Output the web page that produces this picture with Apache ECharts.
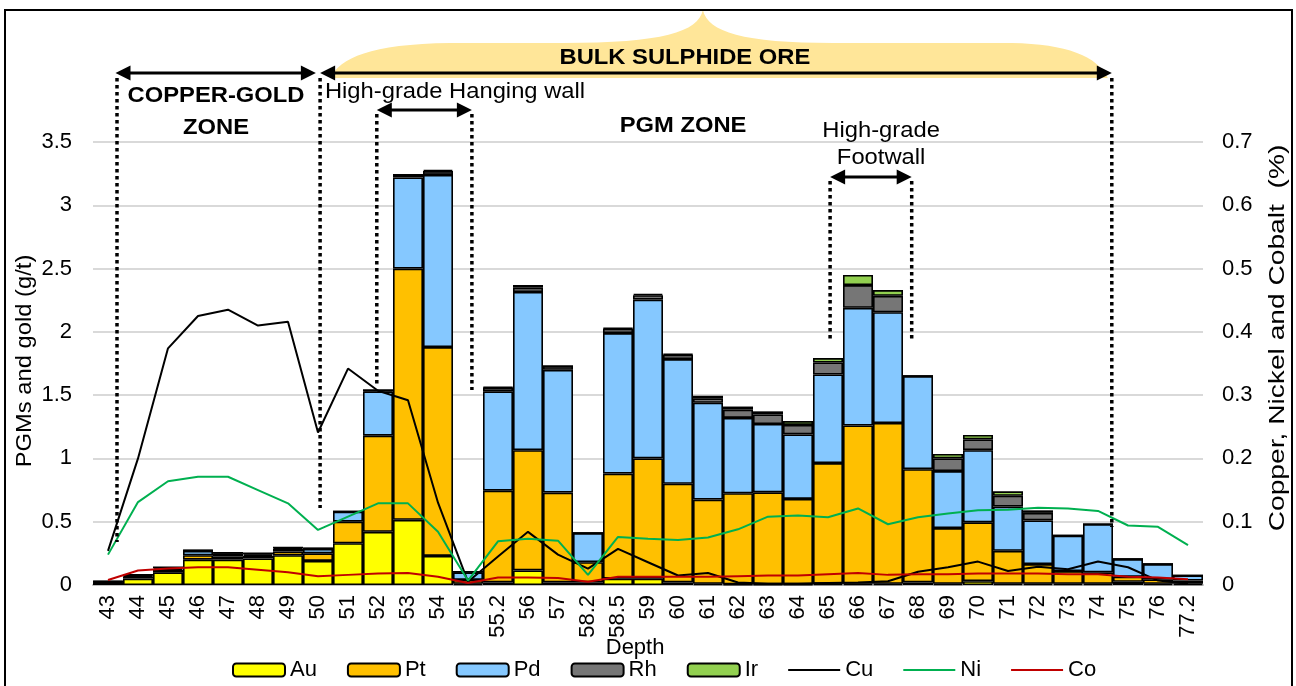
<!DOCTYPE html>
<html>
<head>
<meta charset="utf-8">
<script src="https://cdn.jsdelivr.net/npm/echarts@6/dist/echarts.min.js"></script>
<style>
  html, body { margin: 0; padding: 0; background: #fff; }
  #chart { width: 1296px; height: 686px; }
</style>
</head>
<body>
<div id="chart"></div>
<script>
// depth categories
const depth = ['43', '44', '45', '46', '47', '48', '49', '50', '51', '52', '53', '54', '55', '55.2', '56', '57', '58.2', '58.5',
  '59', '60', '61', '62', '63', '64', '65', '66', '67', '68', '69', '70', '71', '72', '73', '74', '75', '76', '77.2']

// PGMs and gold (g/t), stacked
const au = [0.02, 0.05, 0.1, 0.2, 0.2, 0.21, 0.235, 0.19, 0.33, 0.42, 0.515, 0.23, 0.01, 0.02, 0.115, 0.02, 0.02, 0.05,
  0.05, 0.02, 0.01, 0.005, 0.005, 0.005, 0.01, 0.01, 0.01, 0.02, 0.01, 0.03, 0.01, 0.01, 0.01, 0.01, 0.025, 0.01, 0.01]
const pt = [0.005, 0.015, 0.02, 0.035, 0.025, 0.02, 0.03, 0.06, 0.17, 0.76, 1.985, 1.65, 0.03, 0.725, 0.95, 0.71, 0.16, 0.83,
  0.95, 0.78, 0.665, 0.72, 0.727, 0.675, 0.953, 1.25, 1.27, 0.895, 0.44, 0.465, 0.26, 0.155, 0.1, 0.09, 0.04, 0.035, 0.025]
const pd = [0, 0.005, 0.01, 0.035, 0.025, 0.01, 0.02, 0.035, 0.08, 0.35, 0.72, 1.36, 0.06, 0.785, 1.25, 0.97, 0.23, 1.11,
  1.255, 0.985, 0.765, 0.595, 0.54, 0.51, 0.7, 0.93, 0.875, 0.735, 0.45, 0.57, 0.35, 0.345, 0.28, 0.38, 0.14, 0.12, 0.04]
const rh = [0.005, 0.01, 0.01, 0.005, 0.005, 0.01, 0.01, 0.005, 0, 0.01, 0.02, 0.03, 0.005, 0.03, 0.035, 0.03, 0, 0.035,
  0.035, 0.035, 0.035, 0.065, 0.075, 0.075, 0.095, 0.18, 0.13, 0, 0.1, 0.085, 0.085, 0.06, 0, 0, 0, 0, 0]
const ir = [0, 0, 0, 0, 0, 0, 0, 0, 0, 0, 0, 0.01, 0, 0.005, 0.02, 0, 0, 0.005,
  0.01, 0.005, 0.02, 0.025, 0.025, 0.03, 0.035, 0.08, 0.045, 0, 0.035, 0.035, 0.035, 0.02, 0, 0, 0, 0, 0]

// copper, nickel and cobalt (%)
const cu = [0.054, 0.2, 0.374, 0.425, 0.435, 0.41, 0.416, 0.241, 0.342, 0.307, 0.292, 0.13, 0.005, 0.045, 0.084, 0.048, 0.026, 0.057,
  0.036, 0.015, 0.019, 0.004, 0.002, 0.002, 0.003, 0.004, 0.006, 0.021, 0.028, 0.037, 0.022, 0.029, 0.025, 0.037, 0.028, 0.007, 0.002]
const ni = [0.048, 0.131, 0.164, 0.171, 0.171, 0.15, 0.129, 0.087, 0.108, 0.129, 0.129, 0.084, 0.007, 0.069, 0.073, 0.07, 0.016, 0.076,
  0.073, 0.071, 0.075, 0.088, 0.108, 0.11, 0.107, 0.121, 0.096, 0.107, 0.113, 0.118, 0.119, 0.122, 0.121, 0.117, 0.094, 0.092, 0.063]
const co = [0.008, 0.023, 0.026, 0.028, 0.028, 0.024, 0.02, 0.014, 0.016, 0.018, 0.019, 0.013, 0.003, 0.012, 0.012, 0.011, 0.005, 0.013,
  0.013, 0.013, 0.013, 0.014, 0.015, 0.015, 0.017, 0.019, 0.016, 0.017, 0.017, 0.018, 0.018, 0.018, 0.017, 0.017, 0.013, 0.012, 0.009]

const FONT = '"Liberation Sans", Arial, sans-serif'
// flat line icon for the line series in the legend (the M points pin the box to 52x13)
const LINE_ICON = 'path://M0,0 M52,13 M0,5.5 L52,5.5 L52,7.5 L0,7.5 Z'

const barSeries = (name, data, color) => ({
  name,
  type: 'bar',
  stack: 'pgm',
  yAxisIndex: 0,
  barCategoryGap: '0%',
  itemStyle: {color, borderColor: '#000', borderWidth: 1.6},
  data
})

const lineSeries = (name, data, color) => ({
  name,
  type: 'line',
  yAxisIndex: 1,
  symbol: 'none',
  z: 5,
  itemStyle: {color},
  lineStyle: {color, width: 2},
  data
})

const chart = echarts.init(document.getElementById('chart'))

chart.setOption({
  animation: false,
  textStyle: {fontFamily: FONT},
  grid: {left: 93, right: 93, top: 142, bottom: 101},
  legend: {
    left: 227,
    bottom: 0,
    itemWidth: 52,
    itemHeight: 13,
    itemGap: 30,
    textStyle: {fontSize: 22, color: '#000', fontFamily: FONT},
    data: ['Au', 'Pt', 'Pd', 'Rh', 'Ir',
      {name: 'Cu', icon: LINE_ICON},
      {name: 'Ni', icon: LINE_ICON},
      {name: 'Co', icon: LINE_ICON}]
  },
  xAxis: {
    type: 'category',
    data: depth,
    axisLine: {lineStyle: {color: '#bfbfbf', width: 2}},
    axisTick: {show: false},
    axisLabel: {rotate: 90, fontSize: 22, color: '#000', margin: 10, interval: 0}
  },
  yAxis: [
    {
      type: 'value',
      min: 0,
      max: 3.5,
      interval: 0.5,
      axisLine: {show: false},
      axisTick: {show: false},
      axisLabel: {fontSize: 22, color: '#000', margin: 21},
      splitLine: {lineStyle: {color: '#d9d9d9', width: 2}}
    },
    {
      type: 'value',
      min: 0,
      max: 0.7,
      interval: 0.1,
      axisLine: {show: false},
      axisTick: {show: false},
      axisLabel: {fontSize: 22, color: '#000', margin: 19},
      splitLine: {show: false}
    }
  ],
  series: [
    barSeries('Au', au, '#FFFF00'),
    barSeries('Pt', pt, '#FFC000'),
    barSeries('Pd', pd, '#85C8FF'),
    barSeries('Rh', rh, '#767676'),
    barSeries('Ir', ir, '#92D050'),
    lineSeries('Cu', cu, '#000000'),
    lineSeries('Ni', ni, '#00B050'),
    lineSeries('Co', co, '#C00000')
  ]
})

// annotations: x positions measured in bar widths from the left edge of the plot
const c0 = chart.convertToPixel({xAxisIndex: 0}, 0)
const bw = chart.convertToPixel({xAxisIndex: 0}, 1) - c0
const X = k => c0 - bw / 2 + k * bw

const dotted = (k, y1, y2) => ({
  type: 'line',
  z: 100,
  shape: {x1: X(k), y1, x2: X(k), y2},
  style: {stroke: '#000', lineWidth: 3.5, lineDash: [3.5, 3.5]}
})

const arrow = (x1, x2, y) => {
  const h = 15, w = 7.5
  return [
    {type: 'line', z: 100, shape: {x1: x1 + h - 2, y1: y, x2: x2 - h + 2, y2: y}, style: {stroke: '#000', lineWidth: 3}},
    {type: 'polygon', z: 100, shape: {points: [[x1, y], [x1 + h, y - w], [x1 + h, y + w]]}, style: {fill: '#000'}},
    {type: 'polygon', z: 100, shape: {points: [[x2, y], [x2 - h, y - w], [x2 - h, y + w]]}, style: {fill: '#000'}}
  ]
}

const label = (x, y, text, bold, align, sx) => ({
  type: 'text',
  z: 100,
  x, y,
  scaleX: sx || 1.08,
  style: {
    text, fill: '#000', fontFamily: FONT, fontSize: 22,
    fontWeight: bold ? 'bold' : 'normal',
    align: align || 'center', verticalAlign: 'middle'
  }
})

const vlabel = (x, y, text, stretch) => ({
  type: 'text',
  z: 100,
  x, y,
  rotation: Math.PI / 2,
  scaleX: stretch,
  style: {text, fill: '#000', fontFamily: FONT, fontSize: 22, align: 'center', verticalAlign: 'middle'}
})

// sample a cubic bezier into polygon points
const bez = (p0, p1, p2, p3) => {
  const pts = []
  for (let i = 1; i <= 16; i++) {
    const t = i / 16, u = 1 - t
    pts.push([
      u * u * u * p0[0] + 3 * u * u * t * p1[0] + 3 * u * t * t * p2[0] + t * t * t * p3[0],
      u * u * u * p0[1] + 3 * u * u * t * p1[1] + 3 * u * t * t * p2[1] + t * t * t * p3[1]
    ])
  }
  return pts
}

const xL = X(7.57), xR = X(33.96), xP = X(20.33)
const bracePts = [[xL + 10, 78]]
  .concat(bez([xL + 10, 78], [xL + 20, 58], [xL + 50, 44], [xL + 130, 43]))
  .concat([[xP - 140, 43]])
  .concat(bez([xP - 140, 43], [xP - 40, 43], [xP - 5, 32], [xP, 10]))
  .concat(bez([xP, 10], [xP + 5, 32], [xP + 40, 43], [xP + 130, 43]))
  .concat([[xR - 100, 43]])
  .concat(bez([xR - 100, 43], [xR - 45, 44], [xR - 15, 56], [xR - 4, 78]))

chart.setOption({
  graphic: [
    {type: 'rect', z: 100, shape: {x: 5, y: 10, width: 1287, height: 690}, style: {fill: 'none', stroke: '#000', lineWidth: 2}},
    {type: 'polygon', z: 90, shape: {points: bracePts}, style: {fill: '#FFE699'}},
    dotted(0.8, 78, 542),
    dotted(7.57, 78, 508),
    dotted(9.46, 114, 387),
    dotted(12.63, 114, 390),
    dotted(24.57, 181, 342),
    dotted(27.29, 181, 342),
    dotted(33.96, 78, 527),
    ...arrow(X(0.75), X(7.43), 73),
    ...arrow(X(7.57), X(33.96), 73),
    ...arrow(X(9.46), X(12.63), 110),
    ...arrow(X(24.57), X(27.29), 177),
    label(X(4.1), 96, 'COPPER-GOLD', true),
    label(X(4.1), 128, 'ZONE', true),
    label(X(7.73), 92, 'High-grade Hanging wall', false, 'left'),
    label(X(19.73), 58, 'BULK SULPHIDE ORE', true),
    label(X(19.67), 126, 'PGM ZONE', true),
    label(X(26.27), 131, 'High-grade', false),
    label(X(26.27), 158, 'Footwall', false),
    label(X(18.07), 648, 'Depth', false, 'center', 1),
    vlabel(25, 361, 'PGMs and gold (g/t)', 1.08),
    vlabel(1278, 338, 'Copper, Nickel and Cobalt  (%)', 1.28)
  ]
})
</script>
</body>
</html>
